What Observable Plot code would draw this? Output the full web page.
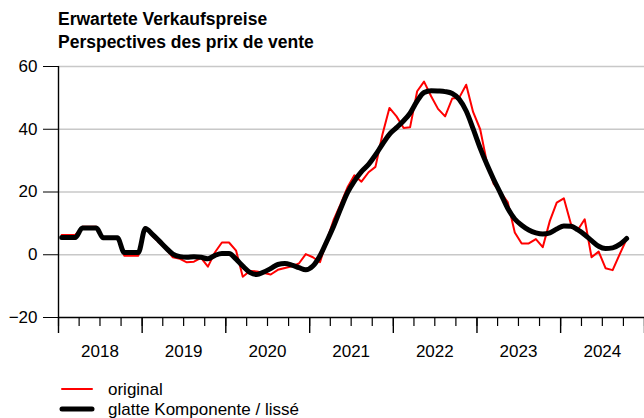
<!DOCTYPE html>
<html>
<head>
<meta charset="utf-8">
<script src="https://cdn.jsdelivr.net/npm/d3@7"></script>
<script src="https://cdn.jsdelivr.net/npm/@observablehq/plot@0.6"></script>
<style>
  html, body { margin: 0; padding: 0; background: #fff; }
  body { width: 644px; height: 418px; position: relative; overflow: hidden;
         font-family: "Liberation Sans", Arial, sans-serif; color: #000; }
  #title { position: absolute; left: 58px; top: 8px; font-weight: bold; font-size: 17.5px; line-height: 23px; }
  #chart { position: absolute; left: 0; top: 0; }
  #legend { position: absolute; left: 0; top: 376px; }
</style>
</head>
<body>
<div id="chart"></div>
<div id="title">Erwartete Verkaufspreise<br>Perspectives des prix de vente</div>
<svg id="legend" width="644" height="42"></svg>
<script>
// Monthly series, January 2018 to October 2024
const startYear = 2018;
const original = [
  6.3, 6.3, 6.3, 8.9, 8.9, 8.9, 5.5, 5.5, 5.5, -0.3, -0.3, -0.3,
  8.7, 6.0, 4.0, 1.8, -0.8, -1.3, -2.4, -2.2, -1.0, -3.8, 0.8, 3.9,
  3.9, 1.3, -7.0, -5.2, -5.3, -5.8, -6.3, -4.8, -4.2, -3.7, -2.8, 0.2,
  -0.8, -2.4, 4.2, 11.0, 16.0, 21.5, 25.3, 23.3, 26.3, 28.0, 38.5, 46.8,
  44.1, 40.4, 40.6, 52.1, 55.2, 50.5, 46.5, 44.1, 49.8, 50.0, 54.2, 45.5,
  40.0, 28.8, 22.6, 19.8, 16.8, 7.1, 3.6, 3.6, 5.0, 2.4, 10.8, 16.6,
  18.0, 9.8, 7.8, 11.3, -0.8, 1.0, -4.3, -4.9, 0.2, 5.0
];
const smooth = [
  5.5, 5.5, 5.5, 8.5, 8.5, 8.5, 5.4, 5.4, 5.4, 0.7, 0.7, 0.7,
  8.4, 6.5, 4.5, 2.2, 0.2, -0.6, -0.8, -0.6, -0.8, -1.3, -0.2, 0.4,
  0.4, -1.4, -3.6, -5.6, -6.3, -5.5, -4.4, -3.1, -2.8, -3.3, -4.1, -4.8,
  -3.6, -0.3, 4.0, 9.0, 14.5, 19.8, 23.5, 26.5, 28.8, 31.8, 35.3, 38.4,
  40.5, 42.7, 45.1, 49.0, 51.7, 52.3, 52.2, 52.0, 51.4, 49.6, 45.8, 40.2,
  34.0, 28.5, 24.0, 19.4, 14.8, 11.4, 9.4, 7.9, 7.0, 6.6, 7.0, 8.2,
  9.2, 9.1, 8.0, 6.4, 4.5, 2.7, 2.0, 2.2, 3.3, 5.2
];
const yTicks = [-20, 0, 20, 40, 60];
const gridValues = [0, 20, 40, 60];
const years = [2018, 2019, 2020, 2021, 2022, 2023, 2024];
const legendLabels = ["original", "glatte Komponente / lissé"];

const dates = original.map((_, i) => new Date(Date.UTC(startYear, i, 15)));
const rowsO = original.map((v, i) => ({date: dates[i], value: v}));
const rowsS = smooth.map((v, i) => ({date: dates[i], value: v}));

const x0 = new Date(Date.UTC(years[0], 0, 1));
const x1 = new Date(Date.UTC(years[years.length - 1] + 1, 0, 1));
const quarterTicks = d3.utcMonth.every(3).range(x0, d3.utcDay.offset(x1, 1));
const yearTicks = years.map(y => new Date(Date.UTC(y, 0, 1))).concat([x1]);
const midYears = years.map(y => new Date(Date.UTC(y, 6, 1)));

const plot = Plot.plot({
  width: 644,
  height: 370,
  marginTop: 66,
  marginBottom: 53,
  marginLeft: 58,
  marginRight: 0,
  style: {fontFamily: "'Liberation Sans', Arial, sans-serif", fontSize: "17px", color: "#000", background: "transparent"},
  x: {type: "utc", domain: [x0, x1]},
  y: {domain: [-20, 60]},
  marks: [
    Plot.gridY(gridValues, {stroke: "#c8c8c8", strokeOpacity: 1, strokeWidth: 1.6}),
    Plot.axisY(yTicks, {tickSize: 15, tickPadding: 6, label: null, tickFormat: d => d3.format("d")(d).replace("-", "\u2212")}),
    Plot.axisX(quarterTicks, {tickSize: 9, tickFormat: () => "", label: null, strokeWidth: 1.2}),
    Plot.axisX(yearTicks, {tickSize: 16, tickFormat: () => "", label: null, strokeWidth: 1.4}),
    Plot.axisX(midYears, {tickSize: 0, tickPadding: 27, tickFormat: d3.utcFormat("%Y"), label: null}),
    Plot.ruleY([-20], {stroke: "#000", strokeWidth: 1.4}),
    Plot.ruleX([x0], {stroke: "#000", strokeWidth: 1.4}),
    Plot.lineY(rowsO, {x: "date", y: "value", stroke: "#ff0000", strokeWidth: 2}),
    Plot.lineY(rowsS, {x: "date", y: "value", stroke: "#000", strokeWidth: 5, curve: "monotone-x"})
  ]
});
document.getElementById("chart").append(plot);

// legend
const lg = d3.select("#legend");
const legendStyles = [{stroke: "#ff0000", w: 2}, {stroke: "#000", w: 5}];
legendLabels.forEach((t, i) => {
  const cy = 13 + i * 20;
  lg.append("line").attr("x1", 62).attr("x2", 92).attr("y1", cy).attr("y2", cy)
    .attr("stroke", legendStyles[i].stroke).attr("stroke-width", legendStyles[i].w).attr("stroke-linecap", "round");
  lg.append("text").attr("x", 108).attr("y", cy).attr("dy", "0.35em")
    .attr("font-family", "'Liberation Sans', Arial, sans-serif").attr("font-size", 17).text(t);
});
</script>
</body>
</html>
